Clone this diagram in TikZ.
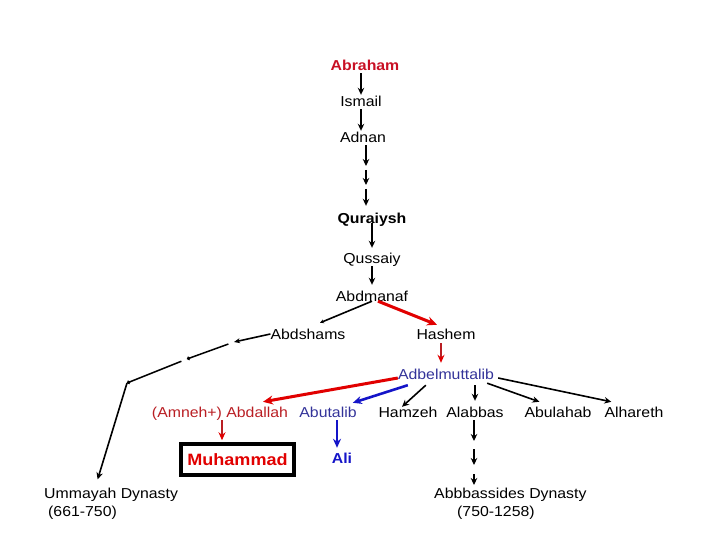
\documentclass[tikz,border=0pt]{standalone}
\usepackage{fontspec}
\setmainfont{Liberation Sans}[FakeStretch=1.1]
\usepackage{tikz}
\usetikzlibrary{arrows.meta}
\definecolor{abrahamRed}{RGB}{200, 16, 36}
\definecolor{lineRed}{RGB}{225, 0, 0}
\definecolor{darkRed}{RGB}{185, 30, 35}
\definecolor{nameBlue}{RGB}{51, 51, 153}
\definecolor{aliBlue}{RGB}{20, 20, 200}

\begin{document}
\begin{tikzpicture}[
    x=1pt, y=-1pt,
    font=\fontsize{14.4}{18}\selectfont,
    name_style/.style={anchor=base, inner sep=0pt,
      text height=10pt, text depth=0pt},
    dyn_style/.style={anchor=north west, inner sep=0pt, align=left},
    arrow_style/.style={line width=1.6pt, shorten <=2pt, shorten >=2pt,
      -{Stealth[length=7pt,width=6.5pt]}},
    dot_style/.style={line width=1.5pt, -{Circle[length=3.5pt]}},
    red_style/.style={line width=3pt, lineRed,
      -{Stealth[length=10pt,width=9pt]}},
    blue_style/.style={line width=2.6pt, aliBlue,
      -{Stealth[length=9pt,width=8pt]}}
]
    \useasboundingbox (0,0) rectangle (720,540);

    % --- Lignee principale ---
    \node[name_style, font=\fontsize{14.4}{18}\selectfont\bfseries, abrahamRed]
        (abraham) at (365,71) {Abraham};
    \node[name_style] (ismail) at (361,107) {Ismail};
    \node[name_style] (adnan) at (363,143) {Adnan};
    \node[name_style, font=\fontsize{14.4}{18}\selectfont\bfseries]
        (quraiysh) at (372,223) {Quraiysh};
    \node[name_style] (qussaiy) at (372,263) {Qussaiy};
    \node[name_style] (abdmanaf) at (372,301) {Abdmanaf};
    \node[name_style] (abdshams) at (308,339) {Abdshams};
    \node[name_style] (hashem) at (446,339) {Hashem};
    \node[name_style, nameBlue] (adbel) at (446,379) {Adbelmuttalib};

    % --- Fils d'Adbelmuttalib ---
    \node[name_style, darkRed] (abdallah) at (220,417) {(Amneh+) Abdallah};
    \node[name_style, nameBlue] (abutalib) at (328,417) {Abutalib};
    \node[name_style] (hamzeh) at (408,417) {Hamzeh};
    \node[name_style] (alabbas) at (475,417) {Alabbas};
    \node[name_style] (abulahab) at (558,417) {Abulahab};
    \node[name_style] (alhareth) at (634,417) {Alhareth};

    \node[draw=black, line width=3.5pt, minimum width=113pt,
          minimum height=31pt, inner sep=0pt,
          font=\fontsize{16.4}{20}\selectfont\bfseries, text=lineRed]
        (muhammad) at (237.5,459.5) {Muhammad};
    \node[name_style, aliBlue, font=\fontsize{14.4}{18}\selectfont\bfseries]
        (ali) at (342,463) {Ali};

    % --- Dynasties ---
    \node[dyn_style] (ummayah) at (44,488)
        {Ummayah Dynasty\\[0pt]\hspace{4pt}(661-750)};
    \node[dyn_style] (abbassides) at (434,488)
        {Abbbassides Dynasty\\[0pt]\hspace{23pt}(750-1258)};

    % --- Fleches verticales ---
    \draw[arrow_style] (abraham.south -| ismail.north) -- (ismail.north);
    \draw[arrow_style] (ismail.south) -- (ismail.south |- adnan.north);

    \coordinate (c1) at (366,168);
    \coordinate (c2) at (366,187);
    \draw[arrow_style] (adnan.south -| c1) -- (c1);
    \draw[arrow_style] (c1) -- (c2);
    \draw[arrow_style, shorten >=7pt] (c2) -- (quraiysh.north -| c2);

    \draw[arrow_style, shorten <=0pt, shorten >=5pt]
        (quraiysh.south) -- (qussaiy.north);
    \draw[arrow_style, shorten <=3pt, shorten >=6pt]
        (qussaiy.south) -- (abdmanaf.north);

    % Abdmanaf -> Abdshams / Hashem
    \draw[arrow_style, shorten <=0pt, shorten >=0pt,
          -{Stealth[length=4pt,width=4pt]}]
        (abdmanaf.south) -- ([xshift=12pt,yshift=6pt]abdshams.north);
    \draw[red_style] ([xshift=6pt]abdmanaf.south)
        -- ([xshift=-9pt,yshift=4pt]hashem.north);

    \draw[line width=2pt, darkRed, shorten <=4pt, shorten >=6pt,
          -{Stealth[length=8pt,width=7pt,lineRed]}]
        ([xshift=-5pt]hashem.south) -- ([xshift=-5pt]adbel.north);

    % --- Adbelmuttalib -> fils ---
    \draw[red_style] ([yshift=-4pt]adbel.west)
        -- ([xshift=43pt,yshift=5pt]abdallah.north);
    \draw[blue_style] ([xshift=10pt,yshift=-6pt]adbel.south west)
        -- ([xshift=-4pt,yshift=4pt]abutalib.north east);
    \draw[arrow_style, shorten <=0pt, shorten >=0pt]
        ([xshift=28pt,yshift=-6pt]adbel.south west)
        -- ([xshift=-6pt]hamzeh.north);
    \draw[arrow_style, shorten <=6pt, shorten >=6pt]
        (adbel.south -| alabbas.north) -- (alabbas.north);
    \draw[arrow_style, shorten <=0pt, shorten >=0pt]
        ([xshift=-7pt,yshift=-4pt]adbel.south east)
        -- ([xshift=15pt,yshift=5pt]abulahab.north west);
    \draw[arrow_style, shorten <=0pt, shorten >=0pt]
        ([xshift=4pt,yshift=-4pt]adbel.east)
        -- ([xshift=7pt,yshift=5pt]alhareth.north west);

    % --- Muhammad, Ali ---
    \draw[line width=1.8pt, darkRed, shorten <=3pt, shorten >=2pt,
          -{Stealth[length=8pt,width=7pt,lineRed]}]
        ([xshift=2pt]abdallah.south)
        -- ([xshift=2pt]abdallah.south |- muhammad.north);
    \draw[blue_style, line width=2.2pt, shorten <=3pt, shorten >=5pt]
        ([xshift=9pt]abutalib.south) -- ([xshift=-5pt]ali.north);

    % --- Vers les Abbassides ---
    \coordinate (d1) at (474,443);
    \coordinate (d2) at (474,467);
    \draw[arrow_style, shorten <=3pt] (alabbas.south -| d1) -- (d1);
    \draw[arrow_style, shorten <=6pt] (d1) -- (d2);
    \draw[arrow_style, shorten <=7pt, shorten >=3pt]
        (d2) -- (abbassides.north -| d2);

    % --- Vers les Omeyyades ---
    \coordinate (u1) at (234,342);
    \coordinate (u2) at (187,359);
    \coordinate (u3) at (127,383);
    \draw[arrow_style, shorten <=0pt, shorten >=0pt,
          -{Stealth[length=6pt,width=5pt]}] (abdshams.west) -- (u1);
    \draw[dot_style, shorten <=6pt] (u1) -- (u2);
    \draw[dot_style, shorten <=6pt] (u2) -- (u3);
    \draw[arrow_style, shorten <=0pt, shorten >=9pt]
        (u3) -- ([xshift=51pt]ummayah.north west);

\end{tikzpicture}
\end{document}
